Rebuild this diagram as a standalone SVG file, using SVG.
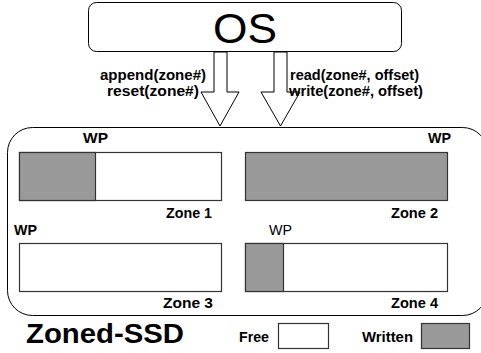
<svg xmlns="http://www.w3.org/2000/svg" width="481" height="353" viewBox="0 0 481 353">
<style>
text{font-family:"Liberation Sans",Arial,sans-serif;fill:#000}
.b{font-weight:bold}
.s{font-size:14px}
.box{fill:#fff;stroke:#000;stroke-width:1}
.zone{fill:#fff;stroke:#333;stroke-width:1.2}
.w{fill:#999;stroke:#333;stroke-width:1.2}
.arr{fill:#fff;stroke:#000;stroke-width:1}
</style>
<rect width="481" height="353" fill="#fff"/>
<g id="ssd">
<rect x="7.5" y="127.5" width="480" height="188" rx="25" ry="25" class="box"/>
</g>
<g id="os">
<rect x="88.5" y="2.5" width="313" height="49" rx="8" ry="8" class="box"/>
<text x="245" y="43" font-size="43" text-anchor="middle" textLength="64" lengthAdjust="spacingAndGlyphs">OS</text>
</g>
<g id="connectors">
<polygon class="arr" points="214,52 227,52 227,92 239,92 220,126 201,92 214,92"/>
<polygon class="arr" points="274,52 287,52 287,92 300,92 280.5,126 261,92 274,92"/>
<text class="b s" x="100" y="80" textLength="106" lengthAdjust="spacingAndGlyphs">append(zone#)</text>
<text class="b s" x="107" y="96" textLength="92" lengthAdjust="spacingAndGlyphs">reset(zone#)</text>
<text class="b s" x="290" y="80" textLength="129" lengthAdjust="spacingAndGlyphs">read(zone#, offset)</text>
<text class="b s" x="289" y="96" textLength="134" lengthAdjust="spacingAndGlyphs">write(zone#, offset)</text>
</g>
<g id="zone1">
<rect x="19.5" y="152.5" width="202" height="48" class="zone"/>
<rect x="19.5" y="152.5" width="76" height="48" class="w"/>
<text class="b s" x="83" y="143" textLength="25" lengthAdjust="spacingAndGlyphs">WP</text>
<text class="b s" x="166" y="218" textLength="46" lengthAdjust="spacingAndGlyphs">Zone 1</text>
</g>
<g id="zone2">
<rect x="245.5" y="152.5" width="202" height="48" class="w"/>
<text class="b s" x="428" y="143" textLength="23" lengthAdjust="spacingAndGlyphs">WP</text>
<text class="b s" x="391" y="218" textLength="47" lengthAdjust="spacingAndGlyphs">Zone 2</text>
</g>
<g id="zone3">
<rect x="19.5" y="243.5" width="202" height="48" class="zone"/>
<text class="b s" x="14" y="235" textLength="23" lengthAdjust="spacingAndGlyphs">WP</text>
<text class="b s" x="163" y="308" textLength="50" lengthAdjust="spacingAndGlyphs">Zone 3</text>
</g>
<g id="zone4">
<rect x="245.5" y="243.5" width="202" height="48" class="zone"/>
<rect x="245.5" y="243.5" width="38" height="48" class="w"/>
<text class="s" x="269" y="235" textLength="23" lengthAdjust="spacingAndGlyphs">WP</text>
<text class="b s" x="391" y="308" textLength="47" lengthAdjust="spacingAndGlyphs">Zone 4</text>
</g>
<g id="title">
<text class="b" x="26" y="343" font-size="28" textLength="158" lengthAdjust="spacingAndGlyphs">Zoned-SSD</text>
</g>
<g id="legend">
<text class="b s" x="239" y="342" textLength="30" lengthAdjust="spacingAndGlyphs">Free</text>
<rect x="278.5" y="323.5" width="50" height="25" class="zone"/>
<text class="b s" x="362" y="342" textLength="51" lengthAdjust="spacingAndGlyphs">Written</text>
<rect x="421.5" y="323.5" width="48" height="25" class="w"/>
</g>
</svg>
